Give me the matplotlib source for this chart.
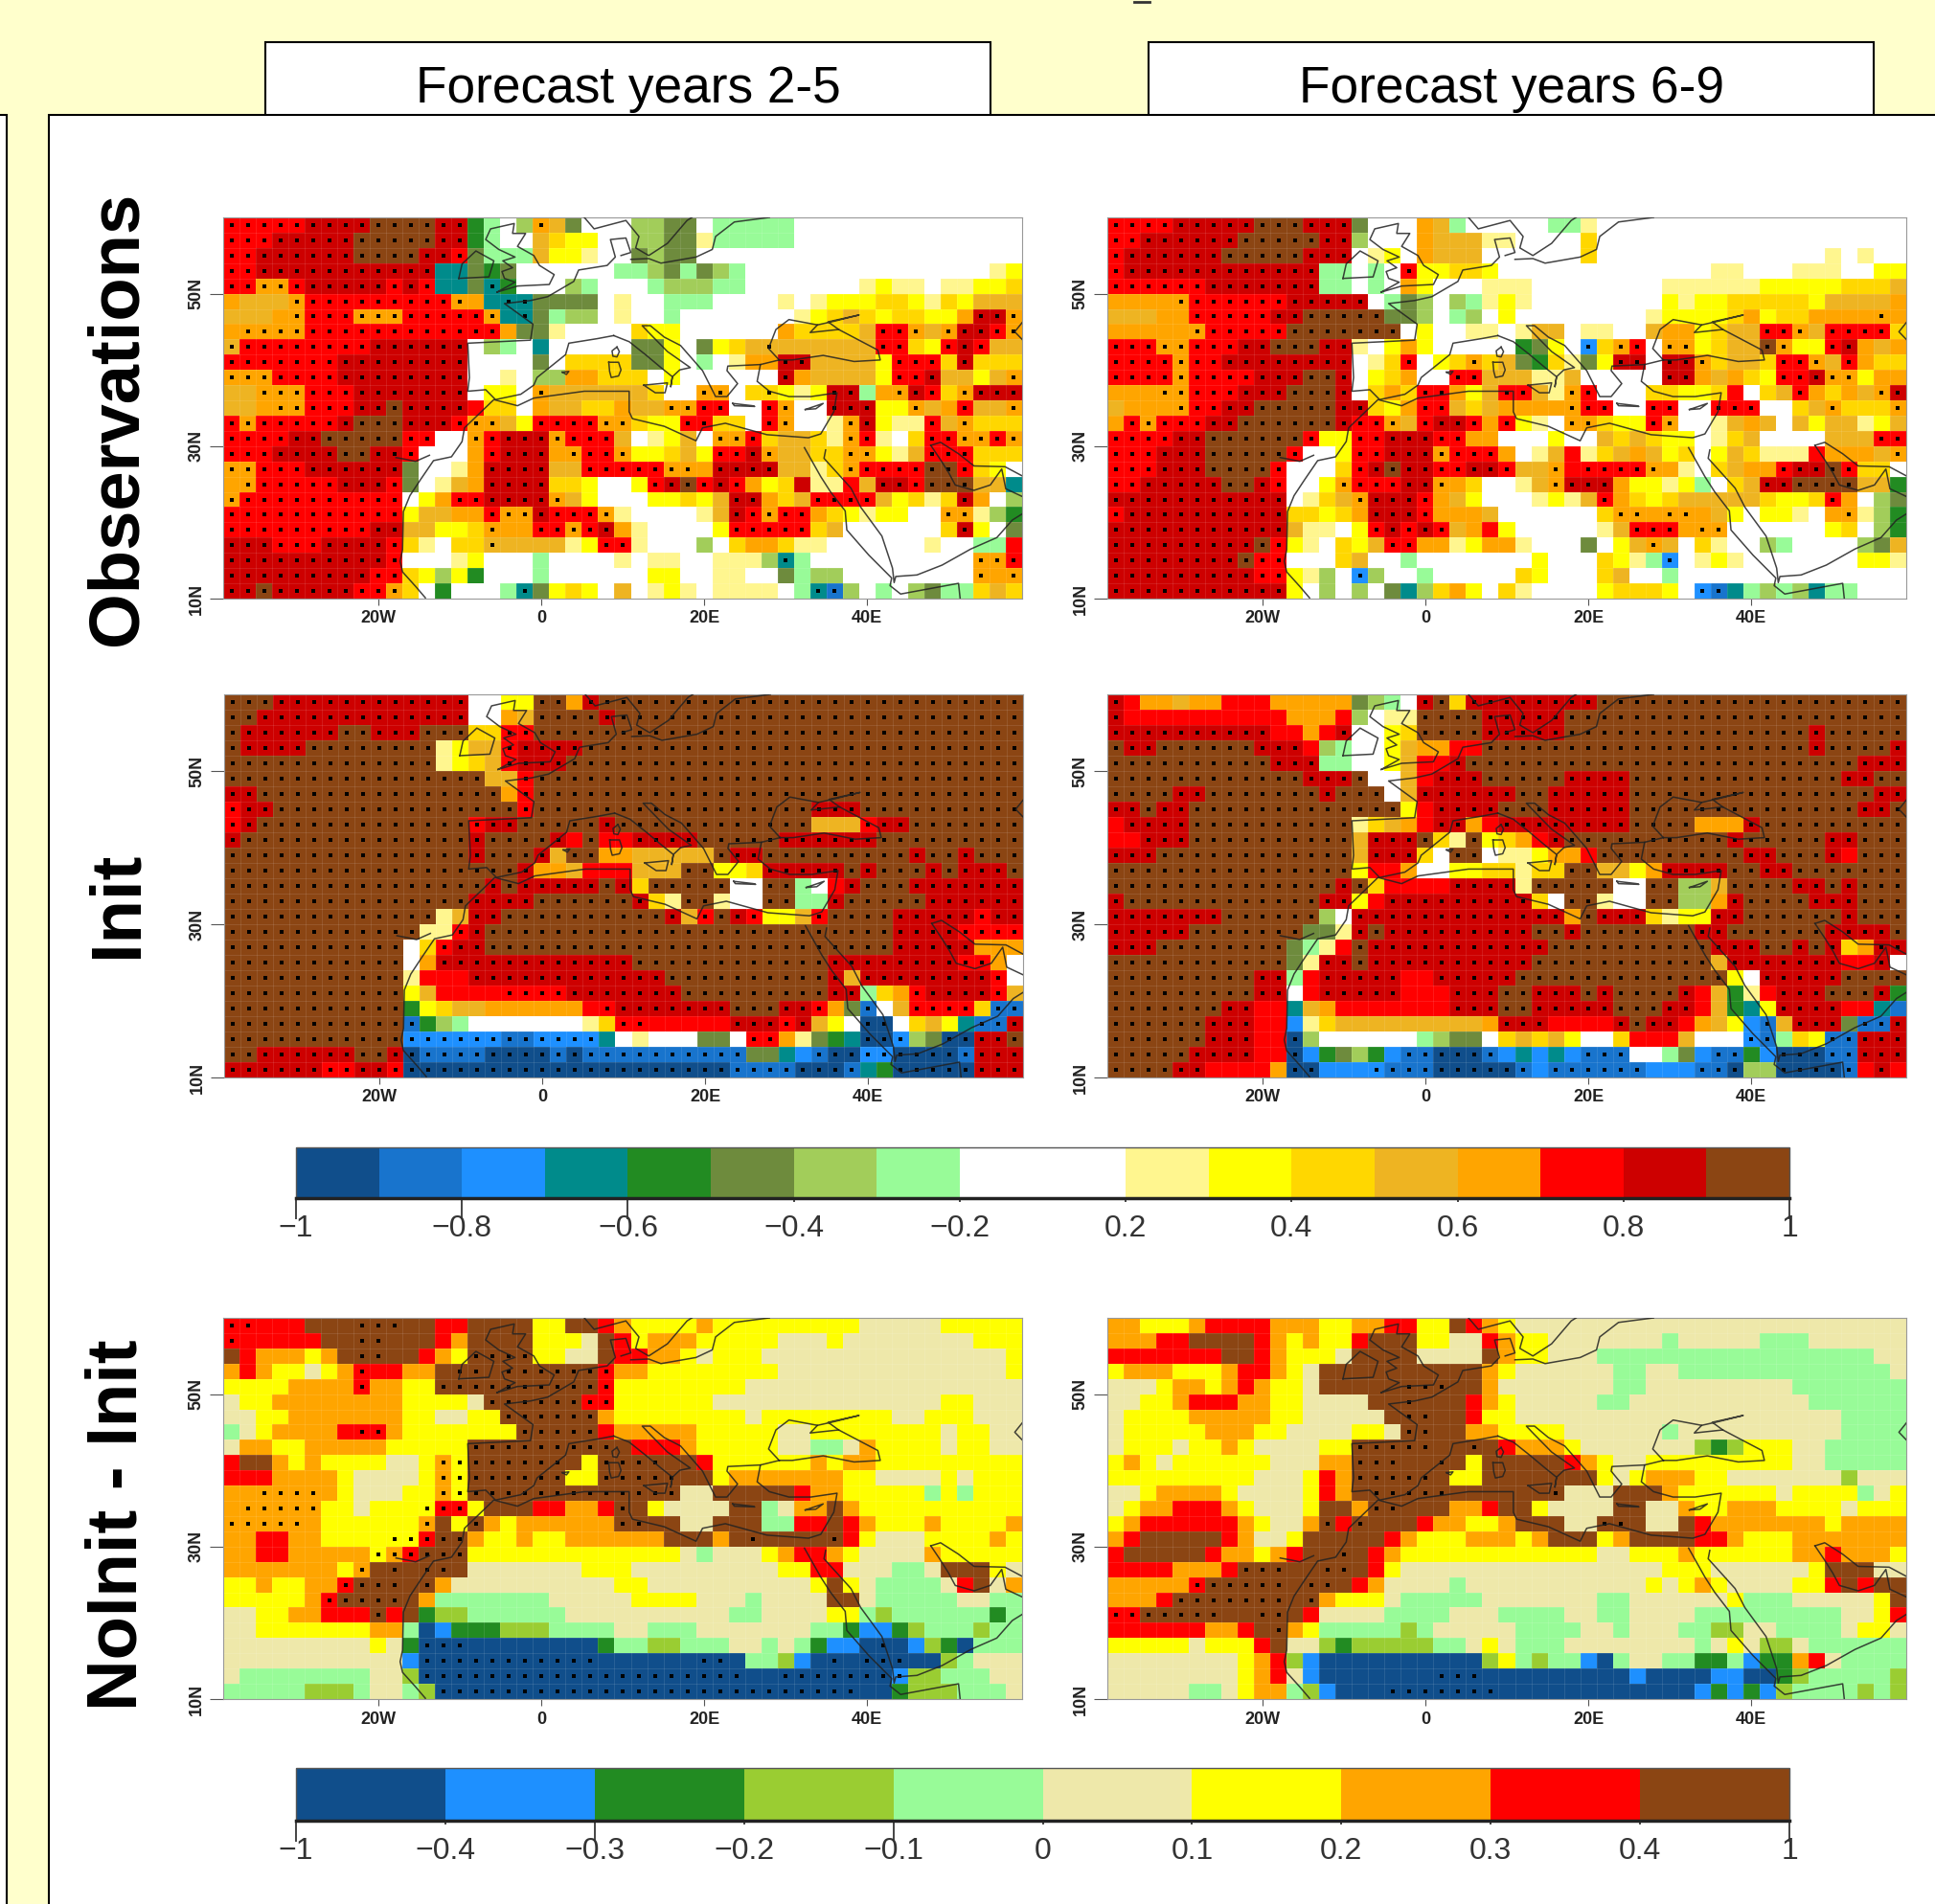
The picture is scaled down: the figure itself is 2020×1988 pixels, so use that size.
import numpy as np
import matplotlib
matplotlib.use('Agg')
import matplotlib.pyplot as plt
from matplotlib.colors import ListedColormap, BoundaryNorm
from matplotlib.colorbar import ColorbarBase
from matplotlib.patches import Rectangle

plt.rcParams['font.family'] = ['Liberation Sans', 'DejaVu Sans']

# correlation classes, one letter per 2x2 degree cell, top row first
# a rows last letter repeats to the right edge, upper case = stippled cell
OBS_25 = [
"OOOOOPPPPQQQQPPehigNmfiiiggffihhhhhi",
"OOOPPPPPQQQQQPPehiimlkkiiggffjhhhhhi",
"OOPPPPPPQQQQPPOfhhhmkkjiifgffi",
"OOPPPPPPPPPPPddfefiiiiiihhgfhfghiiiiiiiiiiiiiiijk",
"OONNOPPPPPOPOddfDeiiighiiihggghhiiiiiiijkjjijjkkl",
"nmmmNOOOOOOOOONndDDffffijiihhhiiiijijkkkllkjlkmmm",
"mmmnNOOONNNOOOOONdDfhggijiihiiiiiiijklmlkllkknPPN",
"nNNNNOOOOOOOOOOOOnffjiiiilkkiiiiiinllllmOONmNPPON",
"MOOOOOOOOPPPPPPighidiiiiiffkifklmMmmmmmmOOlkOPOmm",
"OOOOOOOPPPPPPPPiiiifillllffkihijnnPPmmmmkOOOlPlll",
"NNNOOOOPPPPPPPPiijiggnnlllikiiiiiiPnmmmmkOOPmmkmN",
"mmNNNOOOPPPPPPPikkiNmmmmmmliiNNilLkjkPPhnNPOlNPPP",
"mmnNNOOOPPQPPPPollinmmllnmmNNOOiiONiiPPPkkNmnOmmN",
"ONOOOOOPQQQPPPONNmkOOOONNlkkOOlliONiijNPkjjOmNlll",
"OOOOPPQQQQQOOiiNOPPPNOOOmijkmiNNOlmmljNOjilOONNON",
"OOOPPPPQQPPOiiinOPPPnNOONkklmkOOPNmmllNNkjmOOOlll",
"NNOOOPPPPPPfiijnPPPPmmOOOOONNnPPPPmmjlNOOOOQQOlki",
"nNOOOOOPPPOfijmnPPPPllkiikOPQOPOnklpjjomPPOQQQmmd",
"NOOOOOOOOOOiknOOPPPPNmkiiikklkmPPnlmOOOOmkljlPnige",
"OOOOOOOOOOOkmmnnONNPOOONjiiiijmPONOOnlkjkkiiNNjge",
"OOOOOOOOOPPmmkklNnnOONOPnjiiiikOOOOOlmiiiiiilPkif",
"PPPOOOPPPPOljillMmmmmjkOOjiiigilnnljjiiiiiijiihho",
"PPPPPPPPPPOiiijkiiihiiiijijjiijjjgDhiiiiiiiiiiNNO",
"PPPPPPPPPOOlkgkeiiihiiiiiikkiijjiifhggiiiiiiiiNnN",
"PPQPPPPPOONlieiiihDfklkimijkjijjjjihDBgihigfhhlml",
]
OBS_69 = [
"OOOOPPPPPQQQPPPfiiinmhiiiiihhji",
"OOPPPPPPQQQQQPPgiiinmmmjjiiiili",
"OPPPPPPQQQQQPPPijkinmmmiiiiiiliiiiiiiiiiiiiijijii",
"OPPPPPPPPPPPPhhihiOkkllkiiiiiiiiiiiiijjiiijjjiikk",
"OOOOOOPPPPPPPhhihinkiiijjjiiiiiiiijjjjjjkkkkklllm",
"nnnnNOOOOOOPPPPPihfgighjkjiiiiiiiikjkklllllkmmmmn",
"mmmnnOOOOOPPQQQQQffgihgikiiiiiiiijkkkklnkllnnnnNn",
"nnnnnNOOOOOQQQQQQQikiijjijmmijjiimnnklmmOONmOOOOl",
"OOONNOOOPPQQQPPjiknkiiiiiefkiClNOiNNklmmQNkkOPnmn",
"OOOONOOPPPPPPPPijlOiklNlmfeljfkPPiPPNlmmlOONmOnll",
"OOOONOOOOPPPQQPiklniiOOmmmjjmiiiiiPPnmnlkOOPNNknn",
"nnnNNOOOPPPQQQPilnlOOnkmOOmjNOiiillkkloilmOnlnmNP",
"mnnnNOOPPQQQQQPPlknOOmlmnnnnNOOiiOOiiOOOiilmNlllN",
"nONOOOPPQQQQQQPOONmOPPOnOkjiNNlkkONiijmnmimkmmjkm",
"OOOOPPQQQQQQOkkOOPPPOOnniiikiimlmlkkijlmiiiimmmOO",
"OOOPPPQQQQQOiikOOPPPNOOOnijmojlmnmklikmljjjonnnmN",
"OOOPPPQQQQOiiilOPQPPOOPPOmmNoOOOONnjilmnnOPPQOlli",
"OOPPPPPQQPOiikNOOOPPNnliijmNPPPnkkjkhilmPPQQQQmme",
"PPPPPPPPPPPijlmNPPPOnmkiiijkjmOnlklmmmmmlkklOnigf",
"OPPPPPPPPPPllklnPPPOnnnmiiiiiilNNnNNnmkikkjinNjge",
"PPPPPPPPPPPmjjikOPOPOmnokiiiiijmOOOnNNiiiiiiklige",
"PPPPPPPPPQOkjilkmOOnnjknnjiiifikmNmiljiighiiiigfm",
"PPPPPPPPQOOiiilmiihiiiiiiikiiilkjhCijkjiiiiiiikkj",
"PPPPPPPPPOOkjgiCgiihiiiiilkiiilmiihi",
"PPPPPPPPPPPkigigifdglnkiljiiiiklllkiCBdhghgdhhiii",
]
INIT_25 = [
"QQQPPPPPPPPPPPPiikkQQnPQ",
"QQPPPPPPPPPPPPPiinmQQQQPQ",
"QPPPPPPQQPPPQQQllOOQ",
"QPPPPQQQQQQQQjkmmOPPPPQ",
"QQQQQQQQQQQQQjklmOPPPQ",
"QQQQQQQQQQQQQQQQmmOQ",
"PPQQQQQQQQQQQQQQQnOQ",
"OPPQQQQQQQQQQQQQQQOQQQQQQQQQQQQQQQQQPPPQ",
"OPQQQQQQQQQQQQQOPPQQQQQPQQQQQQQQQQQQmmmOPPQ",
"PQQQQQQQQQQQQQQPQQQQPoQooPPPPQQQQQPPPPPPQ",
"QQQQQQQQQQQQQQQPQQQPmQQnnmmmmmQPPQQQQQQQQQPQQPQQQ",
"QQQQQQQQQQQQQQQQQQPnnmooommmQQkklPPPPPQPQQQPQPPPQ",
"QQQQQQQQQQQQQQQQPQPPPPPQPlQQQQQiiQQhioPQQQPPPPPPP",
"QQQQQQQQQQQQQQQPPPPQQQQQQPljQQjiiQQhhPQQQQQPPPPPP",
"QQQQQQQQQQQQQjmPPQQQQQQQQQQPmOQPOkkmOQQQQPPPPPOPP",
"QQQQQQQQQQQQjjOPQQQQQQQQQQQQQQQQQQQQQQQQQPPPPOOOO",
"QQQQQQQQQQQilOPPQQQQQQQQQQQQQQQQQQQQQQQQQPPPPPnnn",
"QQQQQQQQQQQinPPPPPPPPPPPPQQQQQQQQQQQQPPPPPPPPOOni",
"QQQQQQQQQQQjoooPPPPPPPPPPPPQQQQQQQQQQPmPPPPPPPPOi",
"QQQQQQQQQQQkmooooOOOOPPPPPPPQQQQQQQQQPPhlnOPPPPOmc",
"QQQQQQQQQQQeklmmnnnnnnoOPPPPPPPQQQPPOnfBimOOOOlBB",
"QQQQQQQQQQQBeghiiiiiiijlOOoooooPPPOPmkiAAilmkdBBP",
"QQQQQQQQQQQCCCCCCBBCCCCdijiiiffiOOnjfedAACgfAAPPQ",
"QQPPPPPPQQPABBBBAAAABABBBBBBBBBBffdcBAACCAAAABPPP",
"PPPPPPOOPPOAAAAAAAAAAAAAAAAAAAABBBBAAABdeAAAAAPPP",
]
INIT_69 = [
"PonnmnnooonnnnnfghiPQlPPPPPPPPQ",
"PoooooooooonnnogijjQQQQPPPPPQ",
"PPPPPPPPPPoonoPiiklQQQQPPPPPQQQQQQQQQQQQQQQPQ",
"QPPQQQQQQPPPoghiikmnnooQQQQQQQQQQQQQQQQQQQQPQQQQP",
"QQQQQQQQQQPPPhhiikmooPQQQQQQQQQQQQQQQQQQQQQQQQPPP",
"QQQQQQQQQQQQPPPQiimoPPPQQQQQPPPPQQQQQQQQQQQQQPPQQ",
"QQQQPPQQQQQQQPQQQimPPPPPPQQPPPPPQQQQQQQQQQQQQQQPP",
"PPQPPQQQQQQQQQQQQQkoPPPPQQQPPPPPQQQQQQQQQQQQQQPPQ",
"oPPPPQQQQQQQQQQjlmnoPPnoPPPPPPPPQQQQnnnPQ",
"ooPPPQQQQQQQQQQmPPPQljQklnoPQQQQQQQQQQPQQQQQPPQ",
"PPPQQQQQQQQQQQQmPPPliQQijjknnoQQQQQQQQQPPQQQPoQQQ",
"QQQQQQQQQQQQQQQkooniikkll" "jllQQmmknPPPPQQPPQ",
"QQQQQQQQQQQQQQPQlooooPPPPjQQQQQiiQQggmQQQQPPQPQ",
"PQQQQQQQQQQQQPPkoPPPPPPPPPliQQjiiQQggnPQQQQPPPQ",
"PPPPPPPQQQQQQgiPPPPPPPPPPPPPnQPPPljkkPPQQQQQQPQ",
"PPPPPQQQQQQQffjPQPPPPPPPPPQQPQQQQQQQPPQQQQQQPPPPQ",
"PPPQQQQQQQQfhjoQPPPPPPPPPPPQQQQQQQQQQPPPQQPQPlnPP",
"QQQQQQQQQQQfjPPQPPPPPPPPPPQQQQQQQQQQQmPPPPPPPooPi",
"QQQQQQQQQPPhoPPPPPooPPPPPQQQQQQQQQQQQQkiPPPPPQQQQj",
"QQQQQQQQQPPioPPPPPoooPPPQQPPPQPQQQQPomejoPPPQQQPe",
"QQQQQQQPPoodmnoooooooPPPQQPPPPPQQQPPomedkPPPPoodb",
"QQQQQQPPPoocjlmmmmmmmmmnPPPooooPQPPonmkcBmPPPfBBP",
"QQQQQQPPPooAgiiiiiihgffilmlmkiilooomiiiCBhlkBBPPP",
"QQQQQPPPPooAcefgecBBAAABcdcdcBBBiihfcBBecAAABBPPP",
"QQQQPPoooonAAcccCBBBAAAAABcBBBBBBcccBBAggAAAABoPo",
]
DIFF_25 = [
"IIiiijjjJJJjjiijjjjggjjihgggghgggggggggfffffggggg",
"IiiiiijjJJjjjihjjjjgggfjighhhgggggfffgffffffffggg",
"jihhhghjJJjjihgJJJJggffjiihhgfgggfffffffffffffffg",
"hihggfghIiihhjJJjJJJJJJIhhggggggggffffffffffffffg",
"gggghhhhIhhggJJJJJJJJJJIggggggggf",
"fgghhhhhhhhggggfJJJJJJIIggggggffffffffffffffggfff",
"ffgghhhhhhhggffggJJJJJJhggggggggfggggggggffgggfff",
"efghhhhiIIhgggggggJJJJJihhhhhgggggffggggggggfggff",
"fhhgghhhhhgggggJJJJJJJJJjiiihgggggffeefhggggfggff",
"ijjhghggggffgHGJJJJJJjgJJJJjjiggggggh" "ghh" "ggggggggg",
"iiihhhhgffffgHGJJJJJJggJJJJJjjghhhhhhhggffffgfggg",
"hhHHHHhgfffggHGJJJJJJJJJJJJJffjjjjjihhgggggegeggg",
"hHHHHHggfgggGIIgjjjiihhiJjgffffjjefhhjhgggggggggg",
"HHHHHhggggggHjgJhghhhhhhJJjjffjjjeeiijihggghggggh",
"hhiihhggggGGIJJhgghgghhhhhhjjjhjJjjjjJigfffgggghg",
"hhiihhhhhGHIJJJgggggggggggggfefffghiihgffffhggggg",
"hhhhhhhgHjJjJJjfffffffgggfffffffffggiifffeefjjjgf",
"gghgghhIJJJjJhffffffffffggffffffffffgjgfeeeefijfh",
"ggggghIJJJJjheeeeeeefffffggggfffeffffjjfeeeeeffee",
"ffgghhiiiJijcddeeeeeeffffffffffeeffffggedeeeeeece",
"ffggggggghheabcccdddeeeeffeeefffffffeecbbcdeeedee",
"fffffffffgfcAAAaaaaaaaaceeddeeeffefecbbaAabdcaeee",
"fffffffffffbAAAAAAAAAAAaaaaaaAAaeedbaAaAAAaadefff",
"feeeeeeeeffdAAAAAAAAAAAAAAAAAAAAaaAAAAAAABddeeeff",
"eeeeedddeffedAAAAAAAAAAAAAAAAAAAAAAAAAAaacdddeeef",
]
DIFF_69 = [
"hhggghiiiihhhgghhiiggjihgf",
"hhhiijjjjihghggijjjggffihggfffffffefffffeeef",
"iiiiiiijjihgggfjjjjffffjhggfffeeeeeeeeeeeeeeeeeff",
"ghhhggghiihgfjjjjjjjjjjhgffffffeeffeeeeeeeeeeeeef",
"fffghhghihggfjjjjjJJJjjhfffffffeefffffffffeeeeeee",
"ffgghiiihhggffffjjJjjjihgfffffeefffffffffffeeeeee",
"fgggghhhhhggfffffjJJjjiggffffffffffffffffffffeeee",
"fggggghhhggffffggfJJjjhhggggffffffeffffffffffeeee",
"fgggfgghgffffggJJJJJjjJjihhhgfffffffdcdgggffeeeee",
"ghgfggggggfffhhJJJjjJjgjjjjjihgffgggggggggffeeeee",
"gggggggggfffgihJJJJJjggjjjjjjjgfghhhggfffffffdfff",
"ffghhhhgffffgihjJJJJJjjjjjjJfffjjjhggggggfggggefg",
"fghhiiihgfffgjjhJJjjjhhijjgffffjjffhgghhhggggfggg",
"ghiiiiiihgffhJiJjjjihhgghjjjffJJjffjihhhhhhhghhhh",
"hijjjjjihffgjjjjjihggghhhghjjjghjjjjiihggghhhhhhh",
"ijjjjjihhghijjJjihggggggggggggffggghgggggghhihhhg",
"iiiihhhiJJJjjJJjigffffffffffffffffgggffffffgjjjff",
"hhhhhIJJJJJjJJjihffffefffffffffffgfghgffffggijij",
"hhhiJJJJJJJjJhgggfeeeeefffffffeeffffffgeeefffffgj",
"IIJJJJJjjJJjiffffeeeefffeeeeffeeffffeeeeeeeeeffgi",
"iiiiiihhijJhgeeeeedefffffeeeeffefffeeddffeeeefggf",
"gggggfgggijffdcdddddeefgfeeeffffffffefgfddfeeeeee",
"ffffffffghidbaaaaaaaaaadgedeebaeffeeccebcchifeeee",
"ffffffffghifbaaaaaaaAAAaaaaaaaaabaaaabbaacdeeeeed",
"fffffeefghhedbaaaAAAAAAAaaaaaaaaaaaabcbcbdeeeeded",
]

COLS1 = ['#104E8B', '#1874CD', '#1E90FF', '#008B8B', '#228B22', '#6E8B3D', '#A2CD5A', '#98FB98',
         '#FFFFFF', '#FFFFFF', '#FFF68F', '#FFFF00', '#FFD700', '#EEB422', '#FFA500', '#FF0000', '#CD0000', '#8B4513']
BOUNDS1 = [-1, -.9, -.8, -.7, -.6, -.5, -.4, -.3, -.2, 0, .2, .3, .4, .5, .6, .7, .8, .9, 1]
TICKS1 = [-1, -.8, -.6, -.4, -.2, .2, .4, .6, .8, 1]
CODE1 = 'abcdefghiijklmnopq'

COLS2 = ['#104E8B', '#1E90FF', '#228B22', '#9ACD32', '#98FB98', '#EEE8AA', '#FFFF00', '#FFA500', '#FF0000', '#8B4513']
BOUNDS2 = [-1, -.4, -.3, -.2, -.1, 0, .1, .2, .3, .4, 1]
TICKS2 = BOUNDS2
CODE2 = 'abcdefghij'

# coastlines, lon/lat
COAST = [
 # west africa, north africa, levant, turkey south
 [(-14.2,10.1),(-15.4,11.6),(-17,13.5),(-17.3,14.9),(-17,16.4),(-16.9,21.4),(-16.1,23.5),(-14.8,25.6),(-13.2,28.1),(-11,28.6),(-9.7,30.6),(-9.4,32.4),(-5.8,36.1),
  (-2.9,35.3),(-.9,36.3),(5.3,37.2),(10.8,37.2),(10.8,34.5),(11.2,33.6),(15.1,32.6),(19,30.7),(19.8,32.4),(22.6,33),(27.7,31.5),(32.8,31.1),(34.3,31.6),
  (35.9,34.5),(36.3,37),(33.1,36.5),(30.4,36.5),(28,37.2),(26.5,38.5),(26.9,40.7),(29.2,41.3)],
 # black sea and azov
 [(29.2,41.3),(27.9,42.8),(28.8,45.3),(30.4,46.6),(33.9,45.9),(33,44.9),(36.5,45.3),(41.3,42.6),(41.6,41.3),(38.4,41.1),(34.6,41.9),(30.8,41.3),(29.2,41.3)],
 [(33.9,45.9),(36,46.4),(39,47.2),(35.2,46.3),(36.5,45.3)],
 # greece, adriatic, italy
 [(26.9,40.7),(22.9,40.5),(22.8,39.9),(24.1,38.2),(22.8,36.5),(21.4,36.5),(19.8,39.9),(17.1,43.2),(15.1,44.3),(13.4,45.8),(12.4,45.8),(13.2,44.9),(15.5,42.4),(18.3,40.3),(17,40),(16.1,39.1),(15.9,37.8),(16.1,39.1),(14.7,40.3),(12.8,42),(10.8,43.7),(8.9,44.5)],
 # iberia, france, low countries, denmark, norway
 [(8.9,44.5),(6.9,44.1),(3.4,43.5),(3,42),(-.5,39),(-.9,38),(-2.5,36.8),(-5.6,36.1),(-6.8,37.4),(-9,37.2),(-8.8,39),(-9,43.5),(-1.3,43.9),(-1,46),(-4.5,48.7),(-1.3,49.1),(.8,49.6),(4,51.6),(4.6,53.1),(8.1,53.7),(9.1,54.8),(8.5,57.1),(10.4,57.3),(11,55.4),(9.8,55)],
 [(5.3,60),(6.5,58.5),(10.4,59.6),(12,57.5),(11.6,56),(13.2,55),(15.5,56.6),(17.9,59.6),(18.5,60)],
 [(11,54.5),(13.2,54.6),(14.7,54),(19,54.8),(21,55.8),(21.4,57.5),(23.7,59.4),(28,60)],
 # british isles
 [(-5.4,50.2),(-2.9,51),(1,51.2),(1.6,52.5),(-.2,53.7),(-.9,55),(-2.9,56.2),(-1.9,57.9),(-3.5,57.9),(-3.3,59.2),(-6.2,58.5),(-6.8,57.1),(-5.2,55.8),(-3.2,54.8),(-4.7,54.3),(-3.5,53.4),(-4.8,52.9),(-4.5,52),(-3.2,51.5),(-5.4,50.2)],
 [(-10.1,52),(-6.4,52.2),(-5.8,54.3),(-8,55.6),(-9.7,53.9),(-10.1,52)],
 # islands
 [(8.3,41),(9.5,41),(9.8,40),(9.5,39.2),(8.6,39),(8.4,39.8),(8.3,41)],
 [(9.3,43),(9.6,42.4),(9.3,41.7),(8.8,41.8),(8.7,42.5),(9.3,43)],
 [(23.5,35.6),(25.9,35.3),(26.2,35.2),(23.7,35.3),(23.5,35.6)],
 [(32.4,34.8),(34.6,35.6),(33.7,34.9),(32.4,34.8)],
 [(12.6,38),(15.5,38.3),(15.2,37),(14,37),(12.6,38)],
 [(2.6,39.7),(3.4,39.8),(3.1,39.4),(2.6,39.7)],
 # red sea, arabia, gulf
 [(32.3,29.8),(34.3,26),(35.5,24),(37.3,21.5),(37.5,19),(40.2,15.7),(43,12.7),(42.8,11.7),(44.1,10.6),(51.2,12),(51.4,10)],
 [(34.9,29.5),(34.7,28.4),(38,24.5),(39.2,22),(41.8,18.2),(43.1,14),(43.3,12.1),(43.5,12.9),(46.1,13.1),(49.2,14.4),(52.7,16.5),(55.9,18),(57.8,20.3),(59,21.1)],
 [(47.8,30.1),(49,28.2),(50,26.5),(50.8,24.9),(53.1,24.2),(55.1,24.9),(56.5,27),(57,24.4),(59,23.4)],
 [(47.8,30.1),(49,30.5),(51.2,29),(53.1,27.4),(56.9,27.3),(59,26.1)],
 [(59,44),(58.1,45),(59,46.2)],
 [(-17.8,28.5),(-16.3,28.2),(-15.4,28),(-13.7,28.8)],
]

W, H = 2020, 1988
lon_edges = np.linspace(-39, 59, 50)
lat_edges = np.linspace(60, 10, 26)
lon_mid = (lon_edges[:-1] + lon_edges[1:]) / 2
lat_mid = (lat_edges[:-1] + lat_edges[1:]) / 2


def px_axes(l, t, r, b):
    return fig.add_axes([l / W, 1 - b / H, (r - l) / W, (b - t) / H])


def decode(rows, code, bounds):
    mids = {c: (bounds[i] + bounds[i + 1]) / 2 for i, c in enumerate(code)}
    vals = np.zeros((25, 49))
    dots = np.zeros((25, 49), dtype=bool)
    for j, row in enumerate(rows):
        row = row.ljust(49, row[-1])[:49]
        for i, ch in enumerate(row):
            vals[j, i] = mids[ch.lower()]
            dots[j, i] = ch.isupper()
    return vals, dots


def draw_map(box, rows, code, bounds, colors):
    ax = px_axes(*box)
    cmap = ListedColormap(colors)
    norm = BoundaryNorm(bounds, cmap.N)
    vals, dots = decode(rows, code, bounds)
    ax.pcolormesh(lon_edges, lat_edges, vals, cmap=cmap, norm=norm, linewidth=0, rasterized=True)
    # faint light seams between the cells
    ax.vlines(lon_edges, 10, 60, color='white', lw=0.6, alpha=0.12, zorder=2)
    ax.hlines(lat_edges, -39, 59, color='white', lw=0.6, alpha=0.12, zorder=2)
    jj, ii = np.nonzero(dots)
    ax.scatter(lon_mid[ii], lat_mid[jj], s=9, marker='s', color='black', linewidths=0, zorder=3)
    for seg in COAST:
        seg = np.array(seg)
        ax.plot(seg[:, 0], seg[:, 1], color='#222222', lw=1.1, alpha=0.85, zorder=4)
    ax.set_xlim(-39, 59)
    ax.set_ylim(10, 60)
    ax.set_xticks([-20, 0, 20, 40])
    ax.set_xticklabels(['20W', '0', '20E', '40E'], fontsize=13, fontweight='bold', color='#222222')
    ax.set_yticks([10, 30, 50])
    ax.set_yticklabels(['10N', '30N', '50N'], fontsize=13, fontweight='bold', color='#222222',
                       rotation=90, va='center')
    ax.tick_params(axis='x', length=5, width=0.8, pad=4, color='#555555')
    ax.tick_params(axis='y', length=10, width=0.8, pad=4, color='#555555')
    for s in ax.spines.values():
        s.set_color('#999999')
        s.set_linewidth(0.8)
    return ax


def draw_bar(box, bounds, colors, ticks, labels, long_ticks):
    cax = px_axes(*box)
    cmap = ListedColormap(colors)
    norm = BoundaryNorm(bounds, cmap.N)
    cb = ColorbarBase(cax, cmap=cmap, norm=norm, boundaries=bounds, spacing='uniform',
                      orientation='horizontal', ticks=ticks, drawedges=False)
    cb.ax.set_xticklabels(labels, fontsize=23, color='#333333')
    cb.ax.minorticks_off()
    cb.outline.set_edgecolor('#555555')
    cb.outline.set_linewidth(1.0)
    cb.ax.tick_params(axis='x', length=3, width=1.4, pad=9, color='#444444')
    for t, loc in zip(cb.ax.xaxis.get_major_ticks(), ticks):
        if loc in long_ticks:
            t.tick1line.set_markersize(16)
    cax.plot([0, 1], [0, 0], transform=cax.transAxes, color='#222222', lw=2.5, clip_on=False, zorder=5)


fig = plt.figure(figsize=(W / 100, H / 100), dpi=100, facecolor='#FFFFCC')

bg = fig.add_axes([0, 0, 1, 1])
bg.set_xlim(0, W)
bg.set_ylim(H, 0)
bg.axis('off')
bg.add_patch(Rectangle((-5, 120), 12, H, fc='white', ec='black', lw=1.5))
bg.add_patch(Rectangle((277, 44), 757, 90, fc='white', ec='black', lw=1.5))
bg.add_patch(Rectangle((1199, 44), 757, 90, fc='white', ec='black', lw=1.5))
bg.add_patch(Rectangle((51, 120), W, H, fc='white', ec='black', lw=1.5))
bg.plot([1184, 1200], [2, 2], color='#333333', lw=2)

bg.text(656, 93, 'Forecast years 2-5', fontsize=38.3, ha='center', va='center', color='black')
bg.text(1578, 93, 'Forecast years 6-9', fontsize=38.3, ha='center', va='center', color='black')
bg.text(123, 437, 'Observations', fontsize=53.5, fontweight='bold', rotation=90, ha='center', va='center')
bg.text(123, 944, 'Init', fontsize=53.5, fontweight='bold', rotation=90, ha='center', va='center')
bg.text(123, 1592, 'NoInit - Init', fontsize=53.5, fontweight='bold', rotation=90, ha='center', va='center')

draw_map((233, 227, 1067, 625), OBS_25, CODE1, BOUNDS1, COLS1)
draw_map((1156, 227, 1990, 625), OBS_69, CODE1, BOUNDS1, COLS1)
draw_map((234, 725, 1068, 1125), INIT_25, CODE1, BOUNDS1, COLS1)
draw_map((1156, 725, 1990, 1125), INIT_69, CODE1, BOUNDS1, COLS1)
draw_map((233, 1376, 1067, 1774), DIFF_25, CODE2, BOUNDS2, COLS2)
draw_map((1156, 1376, 1990, 1774), DIFF_69, CODE2, BOUNDS2, COLS2)

labels1 = ['\u22121', '\u22120.8', '\u22120.6', '\u22120.4', '\u22120.2', '0.2', '0.4', '0.6', '0.8', '1']
labels2 = ['\u22121', '\u22120.4', '\u22120.3', '\u22120.2', '\u22120.1', '0', '0.1', '0.2', '0.3', '0.4', '1']
draw_bar((309, 1198, 1868, 1251), BOUNDS1, COLS1, TICKS1, labels1, [-1, -.8, -.6, 1])
draw_bar((309, 1846, 1868, 1901), BOUNDS2, COLS2, TICKS2, labels2, [-1, -.3, -.1, 1])

fig.savefig('out.png', dpi=100, facecolor=fig.get_facecolor())
